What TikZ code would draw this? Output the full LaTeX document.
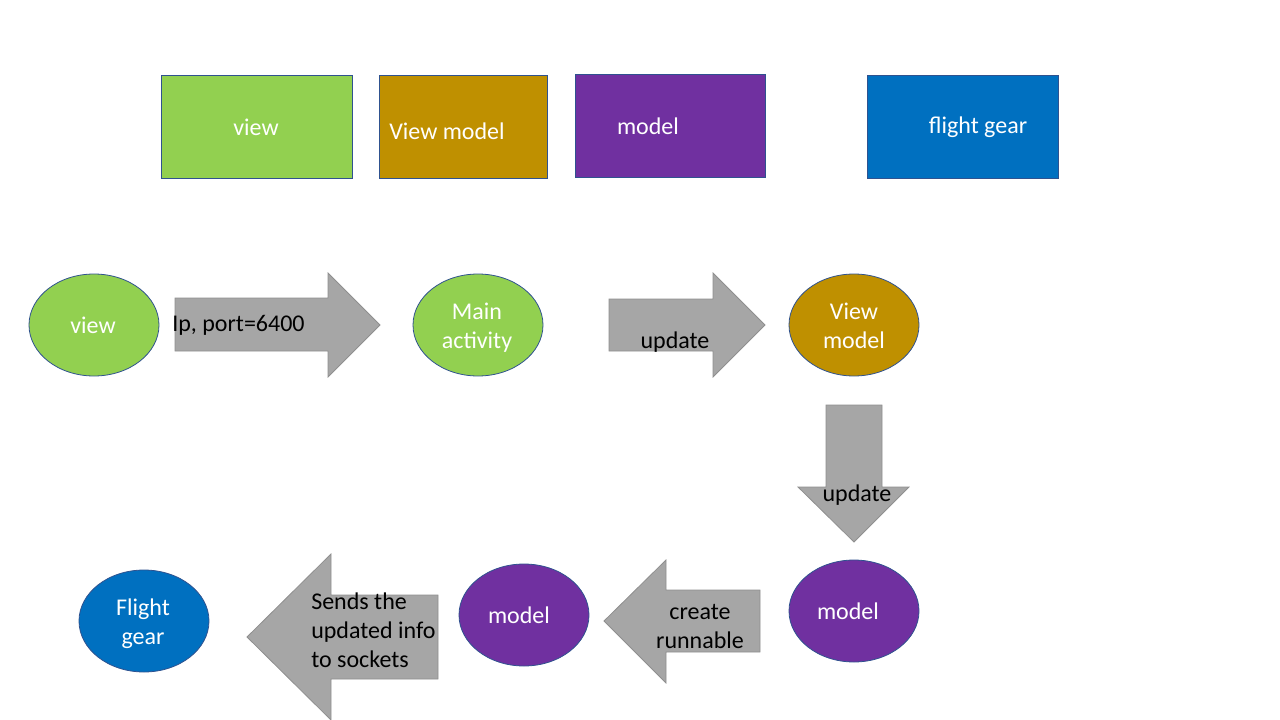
\documentclass[tikz,border=0pt]{standalone}
\usepackage{fontspec}
\setmainfont{Carlito}
\usetikzlibrary{shapes.geometric}
\definecolor{cgreen}{HTML}{92D050}
\definecolor{cgold}{HTML}{BF9000}
\definecolor{cpurple}{HTML}{7030A0}
\definecolor{cblue}{HTML}{0070C0}
\definecolor{cgray}{HTML}{A6A6A6}
\definecolor{cgrayline}{HTML}{8F8F8F}
\definecolor{cedge}{HTML}{2F528F}
\tikzset{
  base/.style={font=\fontsize{18}{21.75}\selectfont, align=center, inner sep=0pt},
  box/.style={base, draw=cedge, line width=0.6pt, text=white, minimum width=190*0.75pt, minimum height=103*0.75pt},
  oval/.style={base, ellipse, draw=cedge, line width=0.6pt, text=white, minimum width=130*0.75pt, minimum height=102*0.75pt},
  wtext/.style={base, text=white},
  blockarrow/.style={fill=cgray, draw=cgrayline, line width=0.6pt, line join=miter},
  lbl/.style={base, text=black}
}
\begin{document}
\begin{tikzpicture}[x=0.75pt, y=-0.75pt]
\useasboundingbox (0,0) rectangle (1280,720);
% legend boxes
\node[box, fill=cgreen, minimum width=191*0.75pt] (bview) at (256.5,126.5) {};
\node[wtext] (tview) at (256,127) {view};
\node[box, fill=cgold, minimum width=168*0.75pt] (bvm) at (463,126.5) {};
\node[wtext] (tvm) at (447,131) {View model};
\node[box, fill=cpurple] (bmodel) at (670,125.5) {};
\node[wtext] (tmodel) at (648,126) {model};
\node[box, fill=cblue, minimum width=191*0.75pt] (bfg) at (962.5,126.5) {};
\node[wtext] (tfg) at (978,127) {flight gear};
% ovals
\node[oval, fill=cgreen] (v) at (94,325) {};
\node[wtext] (tv) at (93,325) {view};
\node[oval, fill=cgreen] (ma) at (478,325) {};
\node[wtext] (tma) at (477,328) {Main\\activity};
\node[oval, fill=cgold] (vm) at (854,325) {};
\node[wtext] (tvm2) at (854,325.5) {View\\model};
\node[oval, fill=cpurple] (m1) at (854,611) {};
\node[wtext] (tm1) at (848,611) {model};
\node[oval, fill=cpurple] (m2) at (524,615) {};
\node[wtext] (tm2) at (519,615) {model};
\node[oval, fill=cblue] (fg) at (144,621) {};
\node[wtext] (tfg2) at (143,623.5) {Flight\\gear};
% block arrows
\draw[blockarrow] (175,298) -- (328,298) -- (328,273) -- (380,325) -- (328,377) -- (328,351) -- (175,351) -- cycle;
\node[lbl, anchor=west] (a1) at (172,325) {Ip, port=6400};
\draw[blockarrow] (609,299) -- (713,299) -- (713,273) -- (765,325) -- (713,377) -- (713,351) -- (609,351) -- cycle;
\node[lbl] (a2) at (675,342) {update};
\draw[blockarrow] (826,405) -- (882,405) -- (882,487) -- (909,487) -- (854,542) -- (798,487) -- (826,487) -- cycle;
\node[lbl] (a3) at (857,495) {update};
\draw[blockarrow] (760,590) -- (666,590) -- (666,560) -- (604,621) -- (666,683) -- (666,652) -- (760,652) -- cycle;
\node[lbl] (a4) at (700,626) {create\\runnable};
\draw[blockarrow] (438,595) -- (331,595) -- (331,554) -- (247,637) -- (331,720) -- (331,679) -- (438,679) -- cycle;
\node[lbl, align=left, anchor=west] (a5) at (311,630) {Sends the\\updated info\\to sockets};
\end{tikzpicture}
\end{document}
